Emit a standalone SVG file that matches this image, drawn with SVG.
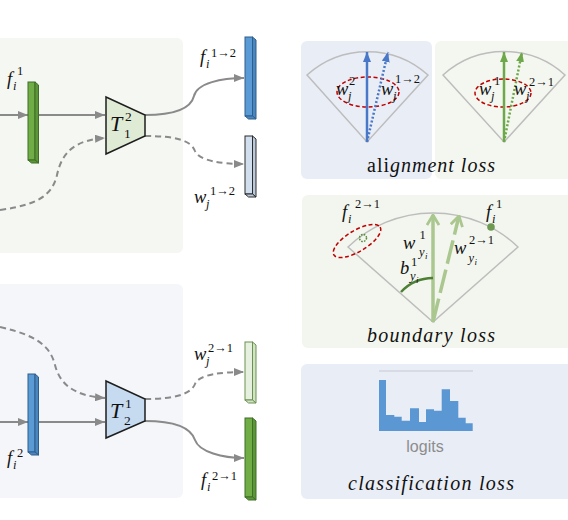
<svg xmlns="http://www.w3.org/2000/svg" width="568" height="520" viewBox="0 0 568 520">
<style>
.m{font-family:"Liberation Serif","DejaVu Serif",serif;font-style:italic;font-size:18.5px;fill:#111}
.t{font-family:"Liberation Serif","DejaVu Serif",serif;font-style:italic;font-size:22px;fill:#111}
.s{font-family:"Liberation Serif","DejaVu Serif",serif;font-size:12.5px;fill:#111}
.si{font-family:"Liberation Serif","DejaVu Serif",serif;font-style:italic;font-size:12.5px;fill:#111}
.ts{font-family:"Liberation Serif","DejaVu Serif",serif;font-size:13.5px;fill:#111}
.ss{font-family:"Liberation Serif","DejaVu Serif",serif;font-style:italic;font-size:9px;fill:#111}
.cap{font-family:"Liberation Serif","DejaVu Serif",serif;font-style:italic;font-size:20px;fill:#111}
.conn{fill:none;stroke:#8a8a8a;stroke-width:2}
.dash{stroke-dasharray:6,4}
.trap{stroke:#1e1e1e;stroke-width:1.5}
.fan{fill:none;stroke:#bdbdbd;stroke-width:1.5}
.red{fill:none;stroke:#c00000;stroke-width:1.5;stroke-dasharray:4,2.5}
</style>
<defs>
<marker id="ah" viewBox="0 0 10 8" refX="10" refY="4" markerWidth="10" markerHeight="8" markerUnits="userSpaceOnUse" orient="auto"><path d="M0,0L10,4L0,8Z" fill="#8a8a8a"/></marker>
<marker id="ab" viewBox="0 0 10 8" refX="10" refY="4" markerWidth="10" markerHeight="8" markerUnits="userSpaceOnUse" orient="auto"><path d="M0,0L10,4L0,8Z" fill="#4a78c8"/></marker>
<marker id="ag" viewBox="0 0 10 8" refX="10" refY="4" markerWidth="10" markerHeight="8" markerUnits="userSpaceOnUse" orient="auto"><path d="M0,0L10,4L0,8Z" fill="#6fa84a"/></marker>
<marker id="ac" viewBox="0 0 12 14" refX="11" refY="7" markerWidth="12" markerHeight="14" markerUnits="userSpaceOnUse" orient="auto"><path d="M1,1L11,7L1,13" fill="none" stroke="#aac78f" stroke-width="2.8"/></marker>
</defs>

<!-- panels -->
<g id="panels">
<rect x="-10" y="38" width="193" height="215" rx="6" fill="#f5f7f2"/>
<rect x="-10" y="284" width="193" height="214" rx="6" fill="#f4f6fa"/>
<rect x="301" y="41" width="131" height="138" rx="6" fill="#e9edf6"/>
<rect x="435" y="41" width="143" height="138" rx="6" fill="#f4f7f0"/>
<rect x="302" y="195" width="276" height="153" rx="6" fill="#f3f6ee"/>
<rect x="301" y="364" width="277" height="135" rx="6" fill="#e9edf6"/>
</g>

<!-- connectors -->
<g id="connectors">
<path class="conn" d="M0,115H28" marker-end="url(#ah)"/>
<path class="conn" d="M39,115H105" marker-end="url(#ah)"/>
<path class="conn" d="M145,115C175,115 191,108 194,96C197,83 222,78 244,78" marker-end="url(#ah)"/>
<path class="conn dash" d="M145,136C175,136 191,140 195,151C199,161 223,164 244,164" marker-end="url(#ah)"/>
<path class="conn dash" d="M0,210C35,205 52,197 57,175C62,152 75,140 105,138" marker-end="url(#ah)"/>
<path class="conn dash" d="M0,327C35,335 50,345 55,365C60,385 75,396 105,398" marker-end="url(#ah)"/>
<path class="conn" d="M0,422H28" marker-end="url(#ah)"/>
<path class="conn" d="M39,422H105" marker-end="url(#ah)"/>
<path class="conn dash" d="M145,399C175,399 191,394 195,384C199,374 223,372 244,372" marker-end="url(#ah)"/>
<path class="conn" d="M145,421C175,421 191,428 195,440C199,452 223,458 244,458" marker-end="url(#ah)"/>
</g>

<!-- feature bars -->
<g id="bar-fi1">
<rect x="28" y="82" width="7" height="78" fill="#70ad47" stroke="#3f6e26" stroke-width="1"/>
<polygon points="35,82 38.5,85 38.5,163 35,160" fill="#5d9639" stroke="#3f6e26" stroke-width="1"/>
<polygon points="28,160 35,160 38.5,163 31.5,163" fill="#5d9639" stroke="#3f6e26" stroke-width="1"/>
</g>
<g id="bar-fi2">
<rect x="28" y="374" width="7" height="78" fill="#5b9bd5" stroke="#2e5f8a" stroke-width="1"/>
<polygon points="35,374 38.5,377 38.5,455 35,452" fill="#4a86c0" stroke="#2e5f8a" stroke-width="1"/>
<polygon points="28,452 35,452 38.5,455 31.5,455" fill="#4a86c0" stroke="#2e5f8a" stroke-width="1"/>
</g>
<g id="bar-fi12">
<rect x="245" y="37" width="7.5" height="79" fill="#5b9bd5" stroke="#2e5f8a" stroke-width="1"/>
<polygon points="252.5,37 256,40 256,119 252.5,116" fill="#4a86c0" stroke="#2e5f8a" stroke-width="1"/>
<polygon points="245,116 252.5,116 256,119 248.5,119" fill="#4a86c0" stroke="#2e5f8a" stroke-width="1"/>
</g>
<g id="bar-wj12">
<rect x="245" y="136" width="7.5" height="58" fill="#d0deed" stroke="#2b2b2b" stroke-width="1"/>
<polygon points="252.5,136 256,139 256,197 252.5,194" fill="#b8c9dc" stroke="#2b2b2b" stroke-width="1"/>
<polygon points="245,194 252.5,194 256,197 248.5,197" fill="#b8c9dc" stroke="#2b2b2b" stroke-width="1"/>
</g>
<g id="bar-wj21">
<rect x="245" y="342" width="7.5" height="58" fill="#e6f0de" stroke="#6a9150" stroke-width="1"/>
<polygon points="252.5,342 256,345 256,403 252.5,400" fill="#d2e3c5" stroke="#6a9150" stroke-width="1"/>
<polygon points="245,400 252.5,400 256,403 248.5,403" fill="#d2e3c5" stroke="#6a9150" stroke-width="1"/>
</g>
<g id="bar-fi21">
<rect x="245" y="418" width="7.5" height="79" fill="#70ad47" stroke="#3f6e26" stroke-width="1"/>
<polygon points="252.5,418 256,421 256,500 252.5,497" fill="#5d9639" stroke="#3f6e26" stroke-width="1"/>
<polygon points="245,497 252.5,497 256,500 248.5,500" fill="#5d9639" stroke="#3f6e26" stroke-width="1"/>
</g>

<!-- transformers -->
<g id="T12">
<polygon class="trap" points="106,97 145,115 145,136 106,154" fill="#e0ebd6"/>
<text class="t" x="110" y="131">T</text><text class="ts" x="125" y="121">2</text><text class="ts" x="124" y="138">1</text>
</g>
<g id="T21">
<polygon class="trap" points="106,381 145,399 145,421 106,438" fill="#c6daf0"/>
<text class="t" x="110" y="418">T</text><text class="ts" x="125" y="408">1</text><text class="ts" x="124" y="425">2</text>
</g>

<!-- labels left -->
<g id="labels">
<text class="m" x="7" y="85">f</text><text class="si" x="13" y="90">i</text><text class="s" x="17" y="75">1</text>
<text class="m" x="7" y="464">f</text><text class="si" x="13" y="469">i</text><text class="s" x="17" y="457">2</text>
<text class="m" x="200" y="63">f</text><text class="si" x="206" y="68">i</text><text class="s" x="211" y="57">1→2</text>
<text class="m" x="194" y="203">w</text><text class="si" x="206" y="208">j</text><text class="s" x="210" y="195">1→2</text>
<text class="m" x="194" y="360">w</text><text class="si" x="206" y="365">j</text><text class="s" x="208" y="352">2→1</text>
<text class="m" x="201" y="486">f</text><text class="si" x="207" y="491">i</text><text class="s" x="212" y="480">2→1</text>
</g>

<!-- alignment loss -->
<g id="alignment">
<path class="fan" d="M307,75L367,142L428,75A90,90 0 0,0 307,75Z"/>
<ellipse class="red" cx="368" cy="92" rx="31" ry="15"/>
<path d="M367,142V52" stroke="#4a78c8" stroke-width="2.5" fill="none" marker-end="url(#ab)"/>
<path d="M367,142L388,52" stroke="#4a78c8" stroke-width="2.5" stroke-dasharray="2,2" fill="none" marker-end="url(#ab)"/>
<text class="m" x="336" y="95">w</text><text class="si" x="348" y="100">j</text><text class="s" x="349" y="85">2</text>
<text class="m" x="381" y="95">w</text><text class="si" x="393" y="100">j</text><text class="s" x="395" y="83">1→2</text>

<path class="fan" d="M443,75L504,142L565,75A91,91 0 0,0 443,75Z"/>
<ellipse class="red" cx="503" cy="93" rx="28" ry="14"/>
<path d="M504,142V52" stroke="#6fa84a" stroke-width="2.5" fill="none" marker-end="url(#ag)"/>
<path d="M504,142L522,52" stroke="#6fa84a" stroke-width="2.5" stroke-dasharray="2,2" fill="none" marker-end="url(#ag)"/>
<text class="m" x="479" y="95">w</text><text class="si" x="491" y="100">j</text><text class="s" x="494" y="85">1</text>
<text class="m" x="514" y="95">w</text><text class="si" x="526" y="100">j</text><text class="s" x="529" y="86">2→1</text>

<text x="367" y="172" textLength="128" lengthAdjust="spacing" font-family="Liberation Serif, DejaVu Serif, serif" font-size="20" fill="#111">ali<tspan font-style="italic">gnment loss</tspan></text>
</g>

<!-- boundary loss -->
<g id="boundary">
<path class="fan" d="M348,247L433,322L518,247A123,123 0 0,0 348,247Z"/>
<path d="M433,322V215" stroke="#aac78f" stroke-width="3.5" fill="none" marker-end="url(#ac)"/>
<path d="M433,322L459,216" stroke="#aac78f" stroke-width="3.5" stroke-dasharray="24,6" fill="none" marker-end="url(#ac)"/>
<path d="M401,292A44,44 0 0,1 433,278" stroke="#4f7f35" stroke-width="2.5" fill="none"/>
<circle cx="491" cy="227" r="3.8" fill="#6e9a52"/>
<circle cx="363" cy="238" r="3.5" fill="none" stroke="#5a8a3a" stroke-width="1.5" stroke-dasharray="1.6,1.2"/>
<ellipse class="red" cx="357" cy="241" rx="27" ry="10.5" transform="rotate(-31 357 241)"/>
<text class="m" x="342" y="218">f</text><text class="si" x="348" y="223">i</text><text class="s" x="355" y="208">2→1</text>
<text class="m" x="486" y="218">f</text><text class="si" x="492" y="223">i</text><text class="s" x="496" y="208">1</text>
<text class="m" x="403" y="249">w</text><text class="s" x="419.5" y="239">1</text><text class="si" x="419" y="256">y</text><text class="ss" x="425" y="259">i</text>
<text class="m" x="454" y="254">w</text><text class="s" x="469" y="244">2→1</text><text class="si" x="468.5" y="262">y</text><text class="ss" x="474.5" y="265">i</text>
<text class="m" x="400" y="274">b</text><text class="s" x="411" y="266">1</text><text class="si" x="410" y="280">y</text><text class="ss" x="416" y="283">i</text>
<text class="cap" x="367" y="342" textLength="128" lengthAdjust="spacing">boundary  loss</text>
</g>

<!-- classification loss -->
<g id="classification">
<line x1="379" y1="371" x2="473" y2="371" stroke="#d2d4dc" stroke-width="1.5"/>
<path d="M379,431V380H386V415H394.3V416.7H401.7V420.7H410V408.3H419V422H426V409.3H434V410.7H441.7V389.3H450V401H458.3V417.7H465.7V423.3H472.7V431Z" fill="#5b97d2"/>
<text x="425" y="452" text-anchor="middle" font-family="Liberation Sans, Arial, sans-serif" font-size="16" fill="#8c8c8c">logits</text>
<text class="cap" x="348" y="490" textLength="166" lengthAdjust="spacing">classification  loss</text>
</g>
</svg>
